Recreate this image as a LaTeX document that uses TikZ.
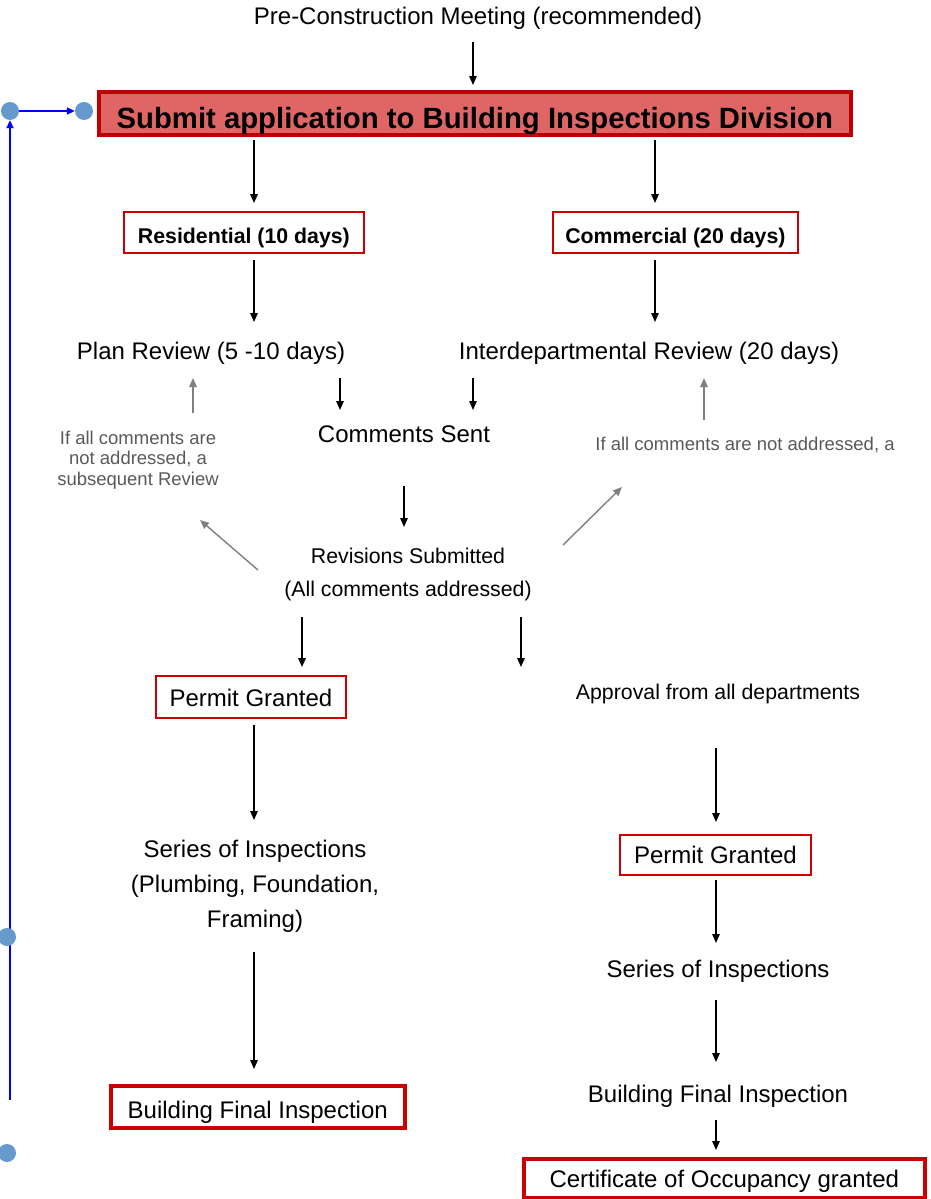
\documentclass[tikz,border=0pt]{standalone}
\usepackage{fontspec}
\setmainfont{Liberation Sans}
\usetikzlibrary{arrows.meta}

\definecolor{boxred}{RGB}{204,0,0}
\definecolor{darkred}{RGB}{192,0,0}
\definecolor{titlefill}{RGB}{224,102,102}
\definecolor{dotblue}{RGB}{102,153,204}
\definecolor{notegray}{RGB}{89,89,89}
\definecolor{arrowgray}{RGB}{128,128,128}

\begin{document}
\begin{tikzpicture}[x=1pt, y=-1pt,
   arr/.style={-{Triangle[length=9pt,width=7.5pt]}, line width=1.4pt},
   grayarr/.style={arr, draw=arrowgray, fill=arrowgray},
   bluearr/.style={-{Triangle[length=8pt,width=7pt]}, draw=blue, fill=blue, line width=2.4pt},
   txt/.style={font=\fontsize{24}{28}\selectfont, inner sep=0pt},
   midtxt/.style={font=\fontsize{21.3}{33}\selectfont, inner sep=0pt, align=center},
   note/.style={font=\fontsize{18.5}{20.5}\selectfont, text=notegray, inner sep=0pt, align=center},
   redbox/.style={draw=boxred, line width=1.8pt, inner sep=0pt, anchor=north west},
   thickbox/.style={redbox, line width=3.5pt},
   dot/.style={circle, fill=dotblue, inner sep=0pt, minimum size=18pt}]

   \useasboundingbox (0,0) rectangle (930,1199);

   % top
   \node[txt, anchor=base] (meeting) at (478,25) {Pre-Construction Meeting (recommended)};
   \node[redbox, fill=titlefill, draw=darkred, line width=3.5pt, minimum width=752pt,
         text height=37pt, text depth=6pt, font=\bfseries\fontsize{29.3}{33}\selectfont]
         (submit) at (97,90) {Submit application to Building Inspections Division};

   % two tracks
   \node[redbox, minimum width=240pt, text height=32pt, text depth=9pt,
         font=\bfseries\fontsize{21.3}{25}\selectfont] (resid) at (123,211) {Residential (10 days)};
   \node[redbox, minimum width=245pt, text height=32pt, text depth=9pt,
         font=\bfseries\fontsize{21.3}{25}\selectfont] (comm) at (552,211) {Commercial (20 days)};

   \node[txt, anchor=base] (planrev) at (211,359) {Plan Review (5 -10 days)};
   \node[txt, anchor=base] (interrev) at (649,359) {Interdepartmental Review (20 days)};
   \node[txt, anchor=base] (sent) at (404,442) {Comments Sent};
   \node[note] (noteres) at (138,460) {If all comments are\\not addressed, a\\subsequent Review};
   \node[note, anchor=base] (notecom) at (745,450) {If all comments are not addressed, a};
   \node[midtxt] (revised) at (408,574) {Revisions Submitted\\(All comments addressed)};

   % residential side
   \node[redbox, minimum width=190pt, text height=31pt, text depth=11pt, txt] (permres) at (155,675) {Permit Granted};
   \node[txt, align=center, font=\fontsize{24}{35}\selectfont] (inspres) at (255,886) {Series of Inspections\\(Plumbing, Foundation,\\Framing)};
   \node[thickbox, minimum width=294pt, text height=33pt, text depth=9pt, txt] (finalres) at (109,1084) {Building Final Inspection};

   % commercial side
   \node[midtxt, anchor=base] (approval) at (718,699) {Approval from all departments};
   \node[redbox, minimum width=191pt, text height=29pt, text depth=11pt, txt] (permcom) at (619,834) {Permit Granted};
   \node[txt, anchor=base] (inspcom) at (718,977) {Series of Inspections};
   \node[txt, anchor=base] (finalcom) at (718,1102) {Building Final Inspection};
   \node[thickbox, minimum width=401pt, text height=29pt, text depth=10pt, txt] (occup) at (522,1157) {Certificate of Occupancy granted};

   % arrow ends
   \coordinate (m1) at (473,42);   \coordinate (m2) at (473,85);
   \coordinate (r1) at (254,140);  \coordinate (r2) at (254,203);
   \coordinate (c1) at (655,140);  \coordinate (c2) at (655,203);
   \coordinate (r3) at (254,260);  \coordinate (r4) at (254,322);
   \coordinate (c3) at (655,260);  \coordinate (c4) at (655,322);
   \coordinate (r5) at (340,378);  \coordinate (r6) at (340,410);
   \coordinate (c5) at (473,378);  \coordinate (c6) at (473,410);
   \coordinate (s1) at (404,486);  \coordinate (s2) at (404,527);
   \coordinate (r7) at (302,617);  \coordinate (r8) at (302,667);
   \coordinate (c7) at (521,617);  \coordinate (c8) at (521,667);
   \coordinate (r9) at (254,725);  \coordinate (r10) at (254,820);
   \coordinate (r11) at (254,952); \coordinate (r12) at (254,1069);
   \coordinate (c9) at (716,748);  \coordinate (c10) at (716,822);
   \coordinate (c11) at (716,880); \coordinate (c12) at (716,943);
   \coordinate (c13) at (716,1000); \coordinate (c14) at (716,1062);
   \coordinate (c15) at (716,1120); \coordinate (c16) at (716,1150);

   \draw[arr] (m1) -- (m2);
   \draw[arr] (r1) -- (r2);
   \draw[arr] (c1) -- (c2);
   \draw[arr] (r3) -- (r4);
   \draw[arr] (c3) -- (c4);
   \draw[arr] (r5) -- (r6);
   \draw[arr] (c5) -- (c6);
   \draw[arr] (s1) -- (s2);
   \draw[arr] (r7) -- (r8);
   \draw[arr] (c7) -- (c8);
   \draw[arr] (r9) -- (r10);
   \draw[arr] (r11) -- (r12);
   \draw[arr] (c9) -- (c10);
   \draw[arr] (c11) -- (c12);
   \draw[arr] (c13) -- (c14);
   \draw[arr] (c15) -- (c16);

   % review loops
   \coordinate (g1) at (193,413);  \coordinate (g2) at (193,378);
   \coordinate (g3) at (704,420);  \coordinate (g4) at (704,378);
   \coordinate (g5) at (258,570);  \coordinate (g6) at (200,520);
   \coordinate (g7) at (563,545);  \coordinate (g8) at (622,487);
   \draw[grayarr] (g1) -- (g2);
   \draw[grayarr] (g3) -- (g4);
   \draw[grayarr] (g5) -- (g6);
   \draw[grayarr] (g7) -- (g8);

   % blue return line
   \node[dot] (dota) at (10,111) {};
   \node[dot] (dotb) at (84,111) {};
   \coordinate (foot) at (10,1100);
   \draw[bluearr] (dota) -- (dotb);
   \draw[bluearr] (foot) -- (dota);
   \node[dot] (dotc) at (7,937) {};
   \node[dot] (dotd) at (7,1153) {};
\end{tikzpicture}
\end{document}
